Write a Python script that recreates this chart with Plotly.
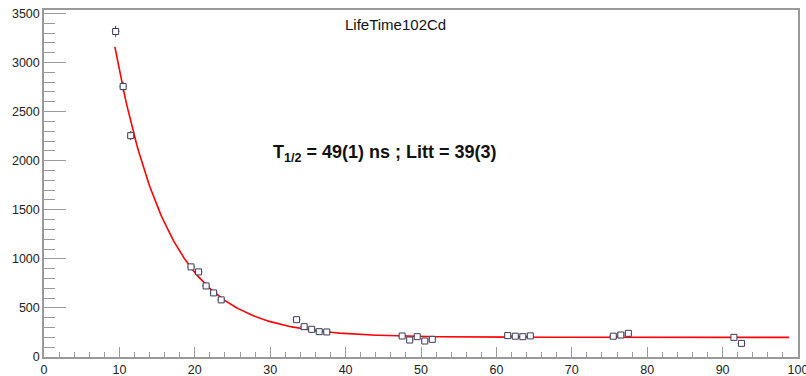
import numpy as np
import plotly.graph_objects as go

# Measured decay points (time in 10 ns units, counts)
time = [9.5, 10.5, 11.5, 19.5, 20.5, 21.5, 22.5, 23.5,
        33.5, 34.5, 35.5, 36.5, 37.5,
        47.5, 48.5, 49.5, 50.5, 51.5,
        61.5, 62.5, 63.5, 64.5,
        75.5, 76.5, 77.5,
        91.5, 92.5]
counts = [3316, 2755, 2255, 918, 867, 724, 653, 582,
          380, 309, 282, 258, 255,
          214, 173, 207, 163, 180,
          218, 212, 207, 215,
          212, 224, 241,
          200, 139]
count_err = [58, 52, 47, 30, 29, 27, 26, 24,
             19, 18, 17, 16, 16,
             15, 13, 14, 13, 13,
             15, 15, 14, 15,
             15, 15, 16,
             14, 12]
time_err = [0.5] * len(time)

# Exponential-plus-background fit parameters
T_HALF_NS = 49.0
NS_PER_UNIT = 10.0
FIT_START = 9.4
FIT_END = 98.8
FIT_AMPL = 2960.0
FIT_BKG = 200.0

t_half = T_HALF_NS / NS_PER_UNIT
fit_t = np.linspace(FIT_START, FIT_END, 400)
fit_y = FIT_AMPL * np.exp(-np.log(2) / t_half * (fit_t - FIT_START)) + FIT_BKG

W, H = 806, 376
ML, MR, MT, MB = 44, 8, 10, 19

fig = go.Figure()

fig.add_trace(go.Scatter(
    x=fit_t, y=fit_y, mode="lines",
    line=dict(color="#ff0000", width=1.6),
    hoverinfo="skip", showlegend=False,
))

fig.add_trace(go.Scatter(
    x=time, y=counts, mode="markers",
    marker=dict(symbol="square", size=6, color="white",
                line=dict(width=1, color="#3a3a55")),
    error_y=dict(type="data", array=count_err, color="#4040b0",
                 thickness=1, width=0),
    error_x=dict(type="data", array=time_err, color="#4040b0",
                 thickness=1, width=0),
    showlegend=False,
))

font_family = "Liberation Sans, Arial, sans-serif"
axis_font = dict(family=font_family, size=12.5, color="#222")
frame_col = "#9a9a9a"

fig.update_layout(
    width=W, height=H,
    margin=dict(l=ML, r=MR, t=MT, b=MB, autoexpand=False),
    paper_bgcolor="white", plot_bgcolor="white",
    font=axis_font,
    xaxis=dict(
        range=[0, 100], dtick=10, tick0=0,
        ticks="inside", ticklen=10, tickcolor=frame_col, tickwidth=1,
        minor=dict(dtick=2, ticks="inside", ticklen=5, tickcolor=frame_col),
        showgrid=False, zeroline=False, automargin=False,
        ticklabeloverflow="allow",
        showline=True, linecolor=frame_col, linewidth=1.5, mirror=True,
        tickfont=axis_font,
    ),
    yaxis=dict(
        range=[0, 3535], dtick=500, tick0=0,
        ticks="inside", ticklen=22, tickcolor=frame_col, tickwidth=1,
        minor=dict(dtick=100, ticks="inside", ticklen=11, tickcolor=frame_col),
        showgrid=False, zeroline=False, automargin=False,
        ticklabeloverflow="allow",
        showline=True, linecolor=frame_col, linewidth=1.5, mirror=True,
        tickfont=axis_font,
    ),
)


def px_to_paper(px, py):
    """Convert canvas pixel coordinates to paper coordinates."""
    return ((px - ML) / (W - ML - MR), 1 - (py - MT) / (H - MT - MB))


tx, ty = px_to_paper(395, 25)
fig.add_annotation(text="LifeTime102Cd", x=tx, y=ty, xref="paper", yref="paper",
                   xanchor="center", yanchor="middle", showarrow=False,
                   font=dict(family=font_family, size=15, color="#111"))

lx, ly = px_to_paper(385, 153)
fig.add_annotation(text="<b>T<sub>1/2</sub> = %d(1) ns ; Litt = 39(3)</b>" % T_HALF_NS,
                   x=lx, y=ly, xref="paper", yref="paper",
                   xanchor="center", yanchor="middle", showarrow=False,
                   font=dict(family=font_family, size=18, color="#111"))

fig.write_html("out.html")
